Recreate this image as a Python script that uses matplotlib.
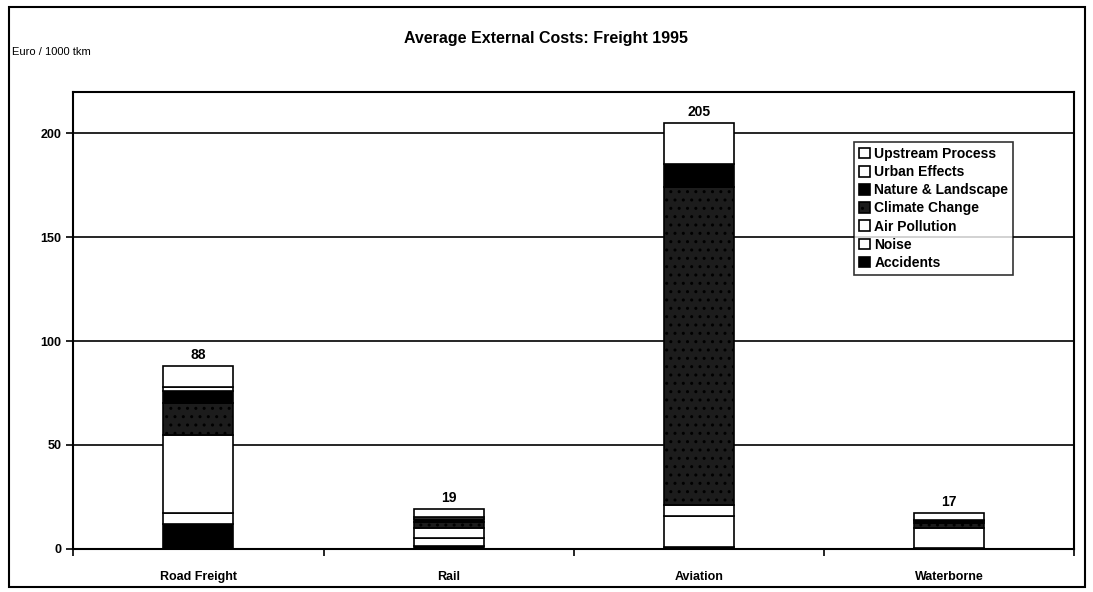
import matplotlib.pyplot as plt
import numpy as np
from matplotlib.patches import Rectangle

plt.rcParams['font.family'] = ['Liberation Sans', 'DejaVu Sans']

# Average external costs of freight transport, 1995 (Euro / 1000 tkm)
modes = ['Road Freight', 'Rail', 'Aviation', 'Waterborne']
components = ['Accidents', 'Noise', 'Air Pollution', 'Climate Change',
              'Nature & Landscape', 'Urban Effects', 'Upstream Process']
accidents = [12, 1.5, 1, 0.3]
noise = [5, 3.5, 15, 0]
air_pollution = [38, 5, 5, 9.5]
climate_change = [15, 3, 153, 2.5]
nature_landscape = [6, 1.5, 11, 1.2]
urban_effects = [2, 1, 0, 0.5]
upstream = [10, 3.5, 20, 3]
totals = [88, 19, 205, 17]

series = [accidents, noise, air_pollution, climate_change,
          nature_landscape, urban_effects, upstream]
faces = ['black', 'white', 'white', '#1c1c1c', 'black', 'white', 'white']
hatches = [None, None, None, '..', None, None, None]

fig = plt.figure(figsize=(10.93, 5.92), dpi=100)
ax = fig.add_axes([0.067, 0.073, 0.916, 0.772])

x = np.arange(len(modes))
bottom = np.zeros(len(modes))
for name, vals, fc, h in zip(components, series, faces, hatches):
    ax.bar(x, vals, 0.28, bottom=bottom, color=fc, edgecolor='black',
           linewidth=1.2, hatch=h, label=name, zorder=3)
    bottom += np.array(vals)

for xi, t in zip(x, totals):
    ax.text(xi, t + 2, str(t), ha='center', va='bottom', fontsize=10,
            fontweight='bold')

ax.set_xlim(-0.5, 3.5)
ax.set_ylim(0, 220)
ax.set_yticks([0, 50, 100, 150, 200])
ax.yaxis.grid(True, color='black', linewidth=1.2, zorder=0)
ax.set_xticks(x)
ax.set_xticklabels(modes, fontsize=9, fontweight='bold')
ax.set_xticks(np.arange(-0.5, 4, 1), minor=True)
ax.tick_params(axis='x', which='major', length=0, pad=16)
ax.tick_params(axis='x', which='minor', length=5, width=1.2, direction='out')
ax.tick_params(axis='y', length=5, width=1.2, labelsize=9)
for lab in ax.get_yticklabels():
    lab.set_fontweight('bold')
for s in ax.spines.values():
    s.set_linewidth(1.5)
    s.set_color('black')

handles, labels = ax.get_legend_handles_labels()
leg = ax.legend(handles[::-1], labels[::-1], loc='upper left',
                bbox_to_anchor=(0.78, 0.89), fontsize=10, frameon=True,
                fancybox=False, edgecolor='black', handlelength=0.8,
                handleheight=0.8, handletextpad=0.3, labelspacing=0.3,
                borderpad=0.35, borderaxespad=0)
leg.get_frame().set_linewidth(1.2)
for t in leg.get_texts():
    t.set_fontweight('bold')

fig.text(0.5, 0.935, 'Average External Costs: Freight 1995', ha='center',
         va='center', fontsize=11.5, fontweight='bold')
fig.text(0.011, 0.912, 'Euro / 1000 tkm', ha='left', va='center', fontsize=8)

fig.patches.append(Rectangle((0.008, 0.008), 0.985, 0.98,
                             transform=fig.transFigure, fill=False,
                             edgecolor='black', linewidth=1.5))

fig.savefig('out.png', dpi=100)
